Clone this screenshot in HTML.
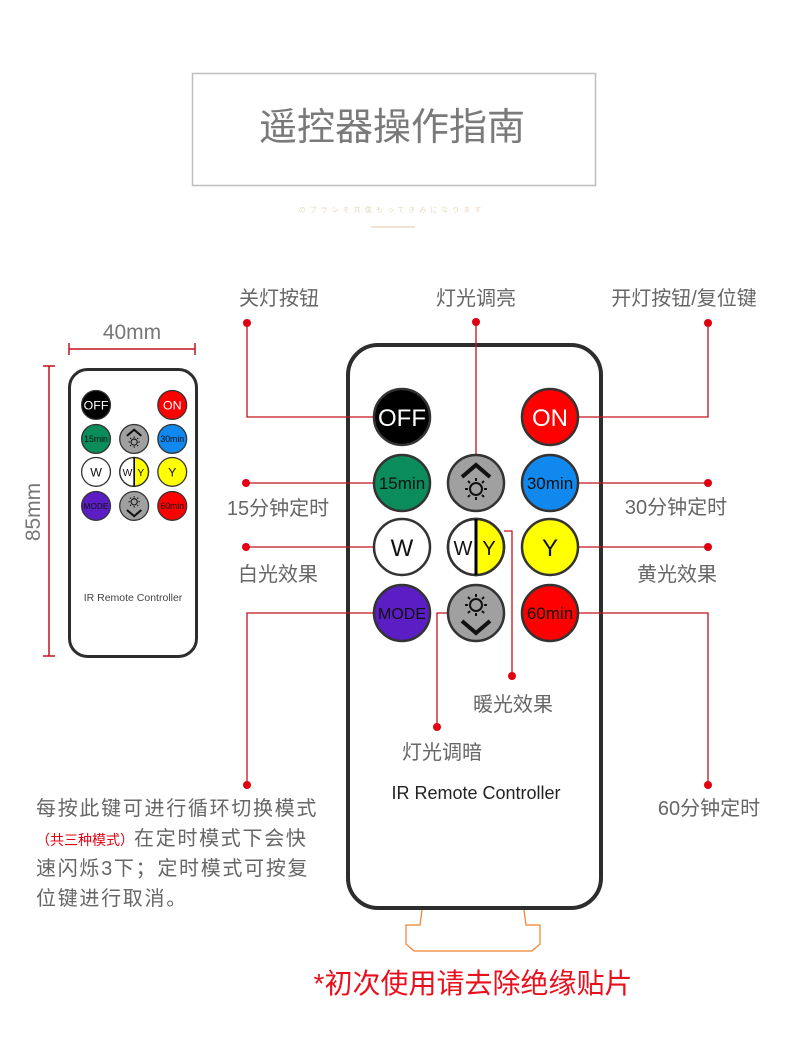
<!DOCTYPE html>
<html><head><meta charset="utf-8"><style>
html,body{margin:0;padding:0;background:#fff}
svg{display:block}
text{font-family:"Liberation Sans","Noto Sans CJK SC",sans-serif}
</style></head><body>
<svg width="790" height="1047" viewBox="0 0 790 1047" xmlns="http://www.w3.org/2000/svg">
<rect x="192.5" y="73.5" width="403" height="112" fill="none" stroke="#bdbdbd" stroke-width="1.5"/>
<text x="392" y="140" font-size="38" fill="#7a7a7a" text-anchor="middle">遥控器操作指南</text>
<text x="392" y="212" font-size="7" fill="#e8d8c0" text-anchor="middle" letter-spacing="4">のブランを共僕もってきみになります</text>
<line x1="371" y1="227" x2="415" y2="227" stroke="#e6c9a0" stroke-width="1"/>

<g stroke="#c0141c" stroke-width="1.5" fill="none">
<line x1="69" y1="349" x2="195" y2="349"/><line x1="69" y1="343" x2="69" y2="355"/><line x1="195" y1="343" x2="195" y2="355"/>
<line x1="49" y1="366" x2="49" y2="656"/><line x1="43" y1="366" x2="55" y2="366"/><line x1="43" y1="656" x2="55" y2="656"/>
</g>
<text x="132" y="339" font-size="21" fill="#777" text-anchor="middle">40mm</text>
<text transform="translate(40,512) rotate(-90)" font-size="21" fill="#777" text-anchor="middle">85mm</text>

<rect x="69.5" y="369.5" width="127" height="287" rx="18" fill="#fff" stroke="#2d2d2d" stroke-width="3"/>
<text x="133" y="601" font-size="10.5" fill="#444" text-anchor="middle">IR Remote Controller</text>
<g transform="translate(-111,190.2) scale(0.515)">
<g stroke="#333" stroke-width="2.5">
<circle cx="402" cy="417" r="28" fill="#000"/>
<circle cx="550" cy="417" r="28" fill="#f00"/>
<circle cx="402" cy="483" r="28" fill="#0a8c5c"/>
<circle cx="476" cy="483" r="28" fill="#a0a0a0"/>
<circle cx="550" cy="483" r="28" fill="#1188ee"/>
<circle cx="402" cy="547" r="28" fill="#fff"/>
<path d="M476 519 A28 28 0 0 1 476 575 Z" fill="#ffff00"/>
<path d="M476 519 A28 28 0 0 0 476 575 Z" fill="#fff"/>
<circle cx="476" cy="547" r="28" fill="none"/>
<line x1="476" y1="519" x2="476" y2="575" stroke="#000" stroke-width="3"/>
<circle cx="550" cy="547" r="28" fill="#ffff00"/>
<circle cx="402" cy="613" r="28" fill="#5a1ec4"/>
<circle cx="476" cy="613" r="28" fill="#a0a0a0"/>
<circle cx="550" cy="613" r="28" fill="#f00"/>
</g>
<g font-size="24" text-anchor="middle">
<text x="402" y="426" fill="#fff">OFF</text>
<text x="550" y="426" fill="#fff">ON</text>
<text x="402" y="489" fill="#111" font-size="17">15min</text>
<text x="550" y="489" fill="#111" font-size="17">30min</text>
<text x="402" y="556" fill="#111">W</text>
<text x="550" y="556" fill="#111">Y</text>
<text x="463" y="555" fill="#111" font-size="20">W</text>
<text x="489" y="555" fill="#111" font-size="20">Y</text>
<text x="402" y="619" fill="#111" font-size="16">MODE</text>
<text x="550" y="619" fill="#111" font-size="17">60min</text>
</g>
<g fill="none" stroke="#111" stroke-width="2">
<path d="M462 477 L476 465 L490 477" stroke-width="4"/>
<circle cx="476" cy="489" r="6"/>
<path d="M476 478v3M476 497v3M465 489h3M484 489h3M468 481l2 2M482 495l2 2M484 481l-2 2M468 497l2-2"/>
<path d="M462 621 L476 633 L490 621" stroke-width="4"/>
<circle cx="476" cy="605" r="6"/>
<path d="M476 594v3M476 613v3M465 605h3M484 605h3M468 597l2 2M482 611l2 2M484 597l-2 2M468 613l2-2"/>
</g>
</g>

<path d="M422 910 L420 925 L406 925 L406 944 L414 951 L532 951 L540 944 L540 925 L526 925 L524 910" fill="none" stroke="#f08030" stroke-width="1.2"/>
<rect x="348" y="345" width="253" height="563" rx="30" fill="#fff" stroke="#2d2d2d" stroke-width="4"/>

<g stroke="#c0141c" stroke-width="1.3" fill="none">
<path d="M374 417 H247 V323"/>
<path d="M476 455 V322"/>
<path d="M578 417 H708 V323"/>
<path d="M374 483 H246"/>
<path d="M578 483 H708"/>
<path d="M374 547 H246"/>
<path d="M578 547 H708"/>
<path d="M374 613 H247 V785"/>
<path d="M578 613 H708 V785"/>
<path d="M504 531 H512 V676"/>
<path d="M448 613 H437 V727"/>
</g>
<g fill="#e00010">
<circle cx="247" cy="323" r="4"/><circle cx="476" cy="322" r="4"/><circle cx="708" cy="323" r="4"/>
<circle cx="246" cy="483" r="4"/><circle cx="708" cy="483" r="4"/>
<circle cx="246" cy="547" r="4"/><circle cx="708" cy="547" r="4"/>
<circle cx="247" cy="785" r="4"/><circle cx="708" cy="785" r="4"/>
<circle cx="512" cy="676" r="4"/><circle cx="437" cy="727" r="4"/>
</g>

<g stroke="#333" stroke-width="2.5">
<circle cx="402" cy="417" r="28" fill="#000"/>
<circle cx="550" cy="417" r="28" fill="#f00"/>
<circle cx="402" cy="483" r="28" fill="#0a8c5c"/>
<circle cx="476" cy="483" r="28" fill="#a0a0a0"/>
<circle cx="550" cy="483" r="28" fill="#1188ee"/>
<circle cx="402" cy="547" r="28" fill="#fff"/>
<path d="M476 519 A28 28 0 0 1 476 575 Z" fill="#ffff00"/>
<path d="M476 519 A28 28 0 0 0 476 575 Z" fill="#fff"/>
<circle cx="476" cy="547" r="28" fill="none"/>
<line x1="476" y1="519" x2="476" y2="575" stroke="#000" stroke-width="3"/>
<circle cx="550" cy="547" r="28" fill="#ffff00"/>
<circle cx="402" cy="613" r="28" fill="#5a1ec4"/>
<circle cx="476" cy="613" r="28" fill="#a0a0a0"/>
<circle cx="550" cy="613" r="28" fill="#f00"/>
</g>
<g font-size="24" text-anchor="middle">
<text x="402" y="426" fill="#fff">OFF</text>
<text x="550" y="426" fill="#fff">ON</text>
<text x="402" y="489" fill="#111" font-size="17">15min</text>
<text x="550" y="489" fill="#111" font-size="17">30min</text>
<text x="402" y="556" fill="#111">W</text>
<text x="550" y="556" fill="#111">Y</text>
<text x="463" y="555" fill="#111" font-size="20">W</text>
<text x="489" y="555" fill="#111" font-size="20">Y</text>
<text x="402" y="619" fill="#111" font-size="16">MODE</text>
<text x="550" y="619" fill="#111" font-size="17">60min</text>
</g>
<g fill="none" stroke="#111" stroke-width="2">
<path d="M462 477 L476 465 L490 477" stroke-width="4"/>
<circle cx="476" cy="489" r="6"/>
<path d="M476 478v3M476 497v3M465 489h3M484 489h3M468 481l2 2M482 495l2 2M484 481l-2 2M468 497l2-2"/>
<path d="M462 621 L476 633 L490 621" stroke-width="4"/>
<circle cx="476" cy="605" r="6"/>
<path d="M476 594v3M476 613v3M465 605h3M484 605h3M468 597l2 2M482 611l2 2M484 597l-2 2M468 613l2-2"/>
</g>
<text x="476" y="799" font-size="18" fill="#222" text-anchor="middle">IR Remote Controller</text>

<g font-size="20" fill="#666">
<text x="279" y="305" text-anchor="middle">关灯按钮</text>
<text x="476" y="305" text-anchor="middle">灯光调亮</text>
<text x="684" y="305" text-anchor="middle">开灯按钮/复位键</text>
<text x="278" y="515" text-anchor="middle">15分钟定时</text>
<text x="676" y="514" text-anchor="middle">30分钟定时</text>
<text x="278" y="581" text-anchor="middle">白光效果</text>
<text x="677" y="581" text-anchor="middle">黄光效果</text>
<text x="513" y="711" text-anchor="middle">暖光效果</text>
<text x="442" y="759" text-anchor="middle">灯光调暗</text>
<text x="709" y="815" text-anchor="middle">60分钟定时</text>
<g letter-spacing="1.7">
<text x="36" y="815">每按此键可进行循环切换模式</text>
<text x="36" y="845"><tspan fill="#e00010" font-size="14" letter-spacing="0">（共三种模式）</tspan>在定时模式下会快</text>
<text x="36" y="875">速闪烁3下；定时模式可按复</text>
<text x="36" y="905">位键进行取消。</text>
</g>
</g>
<text x="473" y="993" font-size="28" fill="#e8101c" text-anchor="middle">*初次使用请去除绝缘贴片</text>
</svg>
</body></html>
